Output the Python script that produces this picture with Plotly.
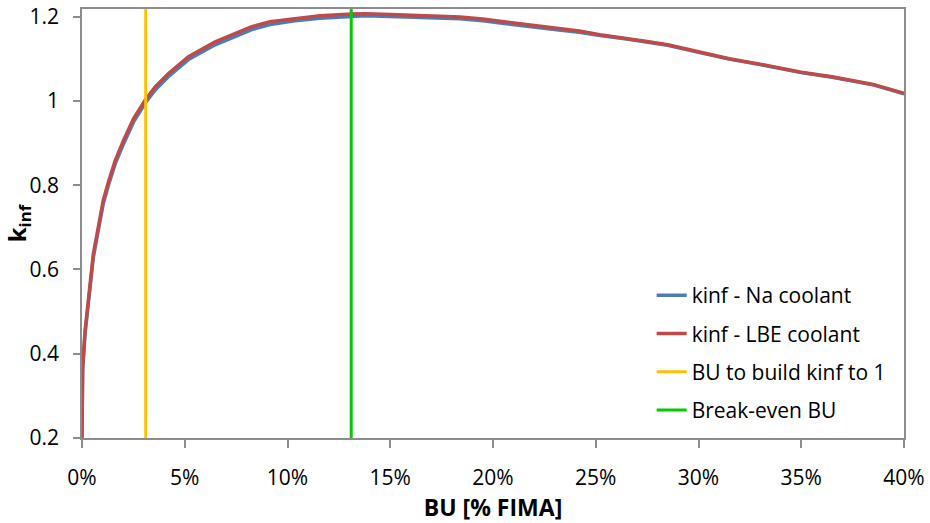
import plotly.graph_objects as go

# Burnup (% FIMA)
bu = [0, 0.03, 0.15, 0.31, 0.55, 0.84, 1.04, 1.3, 1.62, 2.03,
      2.51, 3.08, 3.56, 4.21, 5.18, 6.48, 7.45, 8.26, 9.15, 10.37,
      11.58, 13.1, 13.8, 15, 16.3, 17.5, 18.4, 19.5, 20.6, 21.9,
      23.2, 24.2, 25.2, 26.5, 27.5, 28.5, 30, 31.5, 33, 34,
      35, 36.5, 37.5, 38.5, 40]
kinf_lbe = [0.2, 0.368, 0.455, 0.533, 0.636, 0.713, 0.765, 0.81, 0.859, 0.907,
            0.958, 1.002, 1.033, 1.065, 1.105, 1.140, 1.160, 1.176, 1.188, 1.196,
            1.202, 1.206, 1.207, 1.205, 1.203, 1.201, 1.199, 1.194, 1.187, 1.179,
            1.171, 1.166, 1.157, 1.149, 1.141, 1.133, 1.116, 1.100, 1.087, 1.077,
            1.068, 1.057, 1.047, 1.039, 1.018]
kinf_na = [0.2, 0.36, 0.447, 0.525, 0.628, 0.705, 0.757, 0.802, 0.851, 0.899,
           0.950, 0.995, 1.026, 1.058, 1.098, 1.133, 1.153, 1.169, 1.181, 1.190,
           1.196, 1.201, 1.202, 1.200, 1.198, 1.197, 1.195, 1.190, 1.183, 1.176,
           1.168, 1.163, 1.155, 1.147, 1.140, 1.132, 1.115, 1.099, 1.086, 1.076,
           1.067, 1.056, 1.046, 1.038, 1.017]

bu_to_one = [3.1, 3.1]
break_even = [13.1, 13.1]
vline_y = [0.2, 1.218]

x_ticks = [0, 5, 10, 15, 20, 25, 30, 35, 40]
x_ticklabels = ["0%", "5%", "10%", "15%", "20%", "25%", "30%", "35%", "40%"]
y_ticks = [0.2, 0.4, 0.6, 0.8, 1.0, 1.2]
y_ticklabels = ["0.2", "0.4", "0.6", "0.8", "1", "1.2"]

FONT = "Open Sans"
AX = "#8c8c8c"

fig = go.Figure()
fig.add_trace(go.Scatter(x=bu, y=kinf_na, mode="lines", name="kinf - Na coolant",
                         line=dict(color="#4a7ebb", width=3.5), legendgroup="a"))
fig.add_trace(go.Scatter(x=bu, y=kinf_lbe, mode="lines", name="kinf - LBE coolant",
                         line=dict(color="#be4b48", width=3.5), legendgroup="b"))
fig.add_trace(go.Scatter(x=bu_to_one, y=vline_y, mode="lines", name="BU to build kinf to 1",
                         line=dict(color="#ffc000", width=3), legendgroup="c"))
fig.add_trace(go.Scatter(x=break_even, y=vline_y, mode="lines", name="Break-even BU",
                         line=dict(color="#00cc00", width=3), legendgroup="d"))

fig.update_layout(
    width=930, height=523,
    margin=dict(l=82, r=26, t=9, b=85),
    paper_bgcolor="white", plot_bgcolor="white",
    font=dict(family=FONT, color="black", size=21),
    showlegend=True,
    legend=dict(x=0.693, y=0.38, xanchor="left", yanchor="top",
                font=dict(family=FONT, size=21, color="black"),
                bgcolor="rgba(255,255,255,0)", traceorder="grouped", tracegroupgap=8),
    xaxis=dict(range=[0, 40], tickvals=x_ticks, ticktext=x_ticklabels, automargin=False,
               showgrid=False, zeroline=False, showline=True, linecolor=AX, linewidth=1.5,
               mirror=True, ticks="outside", ticklen=8, tickcolor=AX, tickwidth=1.5,
               tickfont=dict(family=FONT, size=21), ticklabelstandoff=12,
               title=dict(text="<b>BU [% FIMA]</b>", font=dict(family=FONT, size=23))),
    yaxis=dict(range=[0.2, 1.218], tickvals=y_ticks, ticktext=y_ticklabels, automargin=False,
               showgrid=False, zeroline=False, showline=True, linecolor=AX, linewidth=1.5,
               mirror=True, ticks="outside", ticklen=7, tickcolor=AX, tickwidth=1.5,
               tickfont=dict(family=FONT, size=21), ticklabelstandoff=10,
               title=dict(text="<b>k<sub>inf</sub></b>", font=dict(family=FONT, size=24))),
)

fig.write_html("out.html")
